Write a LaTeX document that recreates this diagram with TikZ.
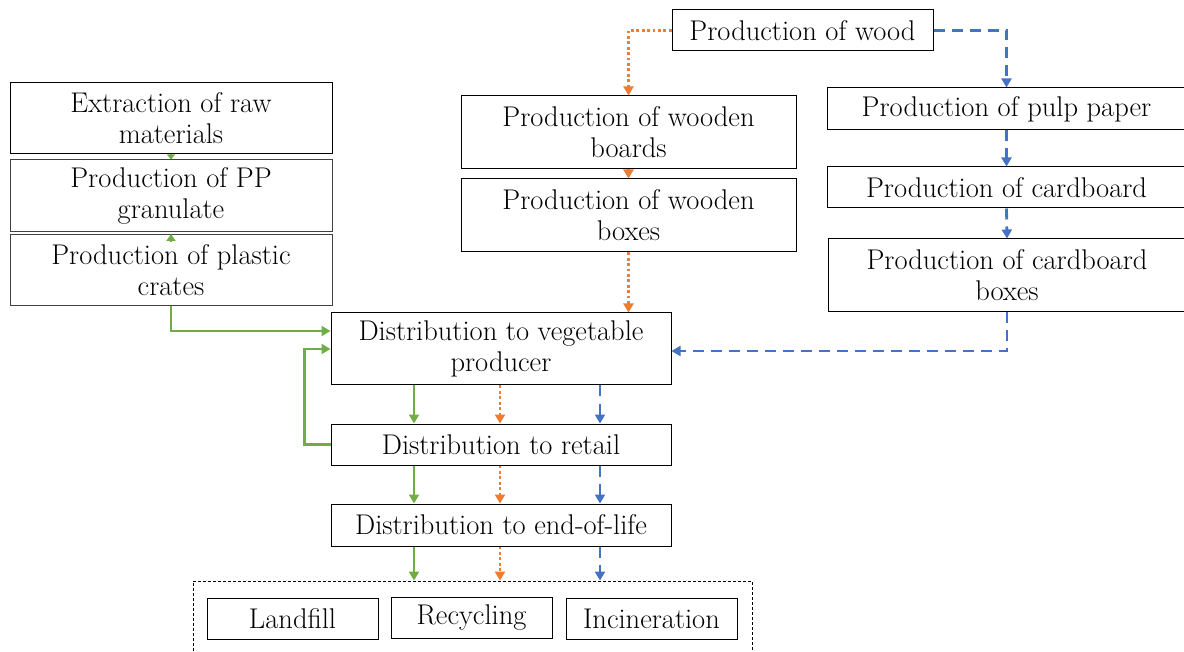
\documentclass[tikz,border=0pt]{standalone}
\usetikzlibrary{arrows.meta}
\definecolor{cgreen}{HTML}{70AD47}
\definecolor{corange}{HTML}{ED7D31}
\definecolor{cblue}{HTML}{4472C4}
\begin{document}
\begin{tikzpicture}[x=1pt,y=-1pt,
  box/.style={draw=black,line width=1pt,rectangle,inner sep=0pt,align=center,
    font=\fontsize{28.5}{31}\selectfont},
  tipA/.style={-{Triangle[length=9pt,width=10pt]}},
  garrow/.style={tipA,draw=cgreen,line width=2.8pt},
  oarrow/.style={tipA,draw=corange,line width=2.8pt,dash pattern=on 2.8pt off 2.6pt},
  barrow/.style={tipA,draw=cblue,line width=2.8pt,dash pattern=on 11pt off 7pt}]
\useasboundingbox (0,0) rectangle (1184,652);
% left column
\node[box,minimum width=322pt,minimum height=71pt] (ext) at (171,118.5) {Extraction of raw\\materials};
\node[box,draw=black!75,minimum width=322pt,minimum height=72pt] (pp) at (171,196) {Production of PP\\granulate};
\node[box,draw=black!75,minimum width=322pt,minimum height=71pt] (pl) at (171,270) {Production of plastic\\crates};
% top
\node[box,minimum width=261pt,minimum height=41pt] (wood) at (802.5,30.5) {Production of wood};
% middle column
\node[box,minimum width=335pt,minimum height=73pt] (wb) at (628.5,132.5) {Production of wooden\\boards};
\node[box,minimum width=335pt,minimum height=73pt] (wx) at (628.5,215.5) {Production of wooden\\boxes};
% right column
\node[box,minimum width=359pt,minimum height=42pt] (pulp) at (1006.5,109) {Production of pulp paper};
\node[box,minimum width=359pt,minimum height=41pt] (card) at (1006.5,187.5) {Production of cardboard};
\node[box,minimum width=358pt,minimum height=73pt] (cb) at (1007,275.5) {Production of cardboard\\boxes};
% distribution
\node[box,minimum width=340pt,minimum height=72pt] (vp) at (501,349) {Distribution to vegetable\\producer};
\node[box,minimum width=340pt,minimum height=41pt] (rt) at (501,444.5) {Distribution to retail};
\node[box,minimum width=340pt,minimum height=42pt] (eol) at (501,525) {Distribution to end-of-life};
% end of life container
\node[draw=black,line width=0.9pt,dash pattern=on 3pt off 2pt,rectangle,inner sep=0pt,
  minimum width=559pt,minimum height=80pt] (cont) at (472.5,621) {};
\node[box,minimum width=171pt,minimum height=41pt] (lf) at (292.5,618.5) {Landfill};
\node[box,minimum width=161pt,minimum height=41pt] (rc) at (471.5,617.5) {Recycling};
\node[box,minimum width=171pt,minimum height=41pt] (inc) at (651.5,618.5) {Incineration};
% column coordinates
\coordinate (gx) at (414,0);
\coordinate (ox) at (500,0);
\coordinate (bx) at (600,0);
% green
\draw[cgreen,line width=2pt,-{Triangle[length=5pt,width=8pt]}] (ext.south) -- (pp.north);
\draw[cgreen,line width=2pt,-{Triangle[length=7pt,width=9pt]}] ([yshift=-8pt]pl.north) -- (pl.north);
\draw[garrow] (pl.south) |- ([yshift=18pt]vp.west);
\draw[garrow] (rt.west) -- ++(-26,0) |- (vp.west);
\draw[garrow] (vp.south -| gx) -- (rt.north -| gx);
\draw[garrow] (rt.south -| gx) -- (eol.north -| gx);
\draw[garrow] (eol.south -| gx) -- (cont.north -| gx);
% orange
\draw[oarrow] (wood.west) -| (wb.north);
\draw[oarrow] (wb.south) -- (wx.north);
\draw[oarrow] (wx.south) -- (vp.north -| wx.south);
\draw[oarrow] (vp.south -| ox) -- (rt.north -| ox);
\draw[oarrow] (rt.south -| ox) -- (eol.north -| ox);
\draw[oarrow] (eol.south -| ox) -- (cont.north -| ox);
% blue
\draw[barrow] (wood.east) -| (pulp.north);
\draw[barrow] (pulp.south) -- (card.north);
\draw[barrow] (card.south) -- (cb.north);
\draw[barrow] (cb.south) |- ([yshift=-2pt]vp.east);
\draw[barrow] (vp.south -| bx) -- (rt.north -| bx);
\draw[barrow] (rt.south -| bx) -- (eol.north -| bx);
\draw[barrow] (eol.south -| bx) -- (cont.north -| bx);
\end{tikzpicture}
\end{document}
